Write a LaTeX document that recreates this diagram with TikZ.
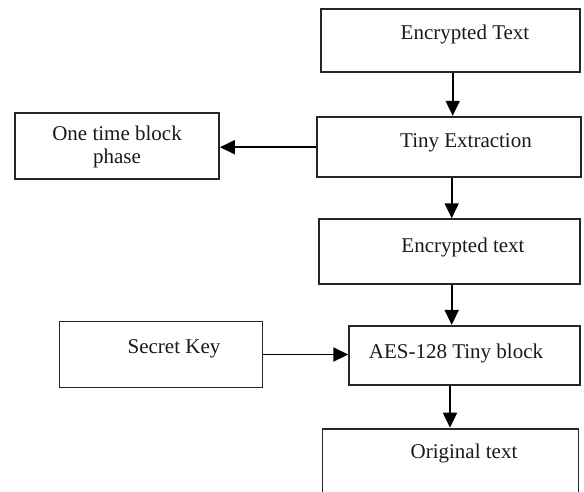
\documentclass[tikz,border=0pt]{standalone}
\usepackage{fontspec}
\setmainfont{Liberation Serif}
\usetikzlibrary{arrows.meta}
\begin{document}
\begin{tikzpicture}[x=1pt,y=-1pt,
  box/.style={draw=black!85,line width=1.8pt,rectangle,inner sep=0pt},
  lbl/.style={inner sep=0pt,font=\fontsize{21}{23.5}\selectfont,align=center,text=black!90},
  arr/.style={line width=1.8pt,-{Triangle[length=15pt,width=14pt]}}]
\useasboundingbox (0,0) rectangle (584,491);
\clip (0,0) rectangle (584,491);
\node[box,minimum width=259pt,minimum height=63pt] (et) at (450.3,40.7) {};
\node[box,minimum width=264pt,minimum height=60pt] (te) at (449.2,146.7) {};
\node[box,minimum width=204pt,minimum height=66pt] (otb) at (117,146.2) {};
\node[box,minimum width=261pt,minimum height=65pt] (et2) at (449.5,251.7) {};
\node[box,minimum width=231pt,minimum height=59pt] (aes) at (464.7,355.3) {};
\node[box,minimum width=203pt,minimum height=66pt] (sk) at (161,354.5) {};
\node[box,minimum width=256pt,minimum height=100pt,anchor=north] (ot) at (450.5,427.7) {};
\node[lbl] (tet) at (465,34) {Encrypted Text};
\node[lbl] (tte) at (466,143) {Tiny Extraction};
\node[lbl] (totb) at (117,147) {One time block\\phase};
\node[lbl] (tet2) at (463,247) {Encrypted text};
\node[lbl] (taes) at (456,353) {AES-128 Tiny block};
\node[lbl] (tsk) at (174,349) {Secret Key};
\node[lbl] (tot) at (464,453) {Original text};
\draw[arr] ([xshift=2.4pt]et.south) -- ([xshift=2.4pt]et.south |- te.north);
\draw[arr] ([yshift=-0.5pt]te.west) -- ([yshift=-0.5pt]te.west -| otb.east);
\draw[arr] ([xshift=2.5pt]te.south) -- ([xshift=2.5pt]te.south |- et2.north);
\draw[arr] ([xshift=2.2pt]et2.south) -- ([xshift=2.2pt]et2.south |- aes.north);
\draw[arr] (sk.east) -- (sk.east -| aes.west);
\draw[arr] (450,0 |- aes.south) -- (450,0 |- ot.north);
\end{tikzpicture}
\end{document}
